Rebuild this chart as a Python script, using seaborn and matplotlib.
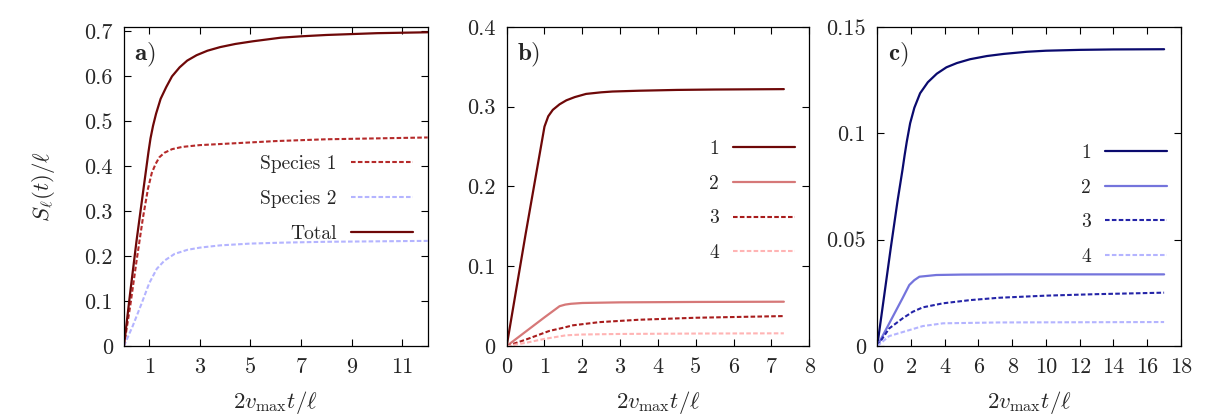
import numpy as np
import pandas as pd
import matplotlib
matplotlib.use('Agg')
import matplotlib.pyplot as plt
import seaborn as sns

# ---- panel a: two species + total ----
t_a_total = [0, 0.25, 0.5, 0.75, 0.97, 1.05, 1.15, 1.27, 1.45, 1.67, 1.9, 2.2, 2.5, 2.87, 3.3, 3.8, 4.4, 5.1, 6.2, 7.0, 8.0, 9.0, 10.0, 11.0, 12.0]
s_a_total = [0, 0.12, 0.235, 0.34, 0.432, 0.462, 0.49, 0.517, 0.55, 0.576, 0.60, 0.62, 0.635, 0.647, 0.657, 0.665, 0.672, 0.678, 0.686, 0.689, 0.692, 0.694, 0.696, 0.697, 0.698]
t_a_sp1 = [0, 0.25, 0.5, 0.75, 0.95, 1.1, 1.25, 1.4, 1.6, 1.9, 2.3, 3.0, 4.0, 5.0, 6.0, 7.0, 8.0, 9.0, 10.0, 11.0, 12.0]
s_a_sp1 = [0, 0.09, 0.19, 0.285, 0.35, 0.385, 0.405, 0.42, 0.43, 0.438, 0.443, 0.447, 0.45, 0.453, 0.456, 0.458, 0.46, 0.461, 0.462, 0.463, 0.464]
t_a_sp2 = [0, 0.35, 0.7, 1.0, 1.3, 1.6, 2.0, 2.5, 3.0, 3.8, 5.0, 6.2, 8.0, 10.0, 12.0]
s_a_sp2 = [0, 0.045, 0.095, 0.14, 0.172, 0.19, 0.205, 0.214, 0.219, 0.224, 0.228, 0.23, 0.232, 0.233, 0.234]
labels_a = ['Species 1', 'Species 2', 'Total']

# ---- panel b: curves 1..4 ----
t_b1 = [0, 0.5, 1.0, 1.1, 1.22, 1.4, 1.58, 1.8, 2.1, 2.5, 2.8, 3.5, 4.5, 5.5, 7.33]
s_b1 = [0, 0.14, 0.275, 0.288, 0.296, 0.303, 0.308, 0.312, 0.316, 0.318, 0.319, 0.320, 0.321, 0.3215, 0.322]
t_b2 = [0, 0.5, 1.0, 1.4, 1.55, 1.7, 2.0, 3.0, 5.0, 7.33]
s_b2 = [0, 0.018, 0.036, 0.050, 0.052, 0.053, 0.054, 0.0548, 0.0553, 0.0556]
t_b3 = [0, 0.5, 1.13, 1.5, 1.75, 2.1, 2.45, 3.5, 5.0, 7.33]
s_b3 = [0, 0.008, 0.019, 0.023, 0.026, 0.028, 0.030, 0.033, 0.0355, 0.0376]
t_b4 = [0, 0.5, 1.0, 1.57, 2.0, 3.0, 5.0, 7.33]
s_b4 = [0, 0.004, 0.009, 0.0135, 0.0145, 0.0152, 0.0157, 0.016]

# ---- panel c: curves 1..4 ----
t_c1 = [0, 0.4, 0.8, 1.2, 1.5, 1.62, 1.75, 1.95, 2.2, 2.54, 3.0, 3.53, 4.1, 4.72, 5.5, 6.5, 7.5, 8.86, 10, 12, 14, 17]
s_c1 = [0, 0.023, 0.046, 0.068, 0.083, 0.0895, 0.096, 0.1047, 0.112, 0.1188, 0.124, 0.128, 0.131, 0.133, 0.1348, 0.1363, 0.1373, 0.1383, 0.1388, 0.1392, 0.1394, 0.1395]
t_c2 = [0, 0.5, 1.0, 1.5, 1.9, 2.2, 2.5, 3.5, 5.0, 8.0, 12.0, 17.0]
s_c2 = [0, 0.0075, 0.015, 0.0225, 0.0287, 0.031, 0.0326, 0.0334, 0.0336, 0.0337, 0.0337, 0.0337]
t_c3 = [0, 0.71, 1.5, 2.1, 2.7, 3.9, 5.5, 7.2, 10.0, 13.0, 17.0]
s_c3 = [0, 0.0083, 0.013, 0.0161, 0.0182, 0.0201, 0.0216, 0.0227, 0.0237, 0.0244, 0.0251]
t_c4 = [0, 0.71, 1.9, 2.7, 3.9, 7.2, 12.0, 17.0]
s_c4 = [0, 0.0047, 0.0075, 0.0094, 0.0107, 0.0111, 0.0112, 0.0113]
labels_n = ['1', '2', '3', '4']

# ---- ticks ----
xt_a = [1, 3, 5, 7, 9, 11]
yt_a = [0, 0.1, 0.2, 0.3, 0.4, 0.5, 0.6, 0.7]
yl_a = ['0', '0.1', '0.2', '0.3', '0.4', '0.5', '0.6', '0.7']
xt_b = [0, 1, 2, 3, 4, 5, 6, 7, 8]
yt_b = [0, 0.1, 0.2, 0.3, 0.4]
yl_b = ['0', '0.1', '0.2', '0.3', '0.4']
xt_c = [0, 2, 4, 6, 8, 10, 12, 14, 16, 18]
yt_c = [0, 0.05, 0.1, 0.15]
yl_c = ['0', '0.05', '0.1', '0.15']

sns.set_theme(style='ticks')
plt.rcParams['font.family'] = ['cmr10', 'DejaVu Serif']
plt.rcParams['mathtext.fontset'] = 'cm'
plt.rcParams['axes.linewidth'] = 0.9

dash = (0, (2.2, 1.1))

fig = plt.figure(figsize=(12.15, 4.2), dpi=100)
ax_a = fig.add_axes([0.102, 0.176, 0.250, 0.760])
ax_b = fig.add_axes([0.417, 0.176, 0.249, 0.760])
ax_c = fig.add_axes([0.722, 0.176, 0.250, 0.760])


def line(ax, t, s, color, ls='-', lw=1.6):
    sns.lineplot(x=t, y=s, ax=ax, color=color, linestyle=ls, lw=lw)
    return ax.get_lines()[-1]


# panel a
h1 = line(ax_a, t_a_sp1, s_a_sp1, '#b52a2a', dash, 1.5)
h2 = line(ax_a, t_a_sp2, s_a_sp2, '#b4b4ff', dash, 1.5)
h3 = line(ax_a, t_a_total, s_a_total, '#6e0808', '-', 1.6)
hand_a = [h1, h2, h3]

# panel b
hand_b = [line(ax_b, t_b1, s_b1, '#6e0808', '-', 1.6),
          line(ax_b, t_b2, s_b2, '#d67878', '-', 1.6),
          line(ax_b, t_b3, s_b3, '#a81c1c', dash, 1.5),
          line(ax_b, t_b4, s_b4, '#ffb4b4', dash, 1.5)]

# panel c
hand_c = [line(ax_c, t_c1, s_c1, '#0a0a6e', '-', 1.6),
          line(ax_c, t_c2, s_c2, '#7474dc', '-', 1.6),
          line(ax_c, t_c3, s_c3, '#2424a8', dash, 1.5),
          line(ax_c, t_c4, s_c4, '#b4b4ff', dash, 1.5)]

setup = [
    (ax_a, (0, 12), (0, 0.71), xt_a, [str(v) for v in xt_a], yt_a, yl_a, 'a', hand_a, labels_a, (0.951, 0.598)),
    (ax_b, (0, 8), (0, 0.4), xt_b, [str(v) for v in xt_b], yt_b, yl_b, 'b', hand_b, labels_n, (0.954, 0.645)),
    (ax_c, (0, 18), (0, 0.15), xt_c, [str(v) for v in xt_c], yt_c, yl_c, 'c', hand_c, labels_n, (0.954, 0.633)),
]

for ax, xl, yl, xt, xtl, yt, ytl, tag, hands, labs, anchor in setup:
    ax.set_xlim(*xl)
    ax.set_ylim(*yl)
    ax.set_xticks(xt, xtl)
    ax.set_yticks(yt, ytl)
    ax.tick_params(direction='in', top=True, right=True, length=5, width=0.8,
                   labelsize=16, pad=8, color='black')
    for sp in ax.spines.values():
        sp.set_visible(True)
        sp.set_color('black')
    ax.set_xlabel(r'$2v_{\max}t/\ell$', fontsize=16.5, labelpad=9)
    ax.text(0.034, 0.913, r'$\mathbf{' + tag + r'})$', transform=ax.transAxes,
            fontsize=18, va='center', ha='left')
    ax.legend(hands, labs, loc='upper right', bbox_to_anchor=anchor, frameon=False,
              markerfirst=False, fontsize=14, handlelength=3.2, handletextpad=0.72,
              labelspacing=0.86, borderpad=0, borderaxespad=0)

ax_a.set_ylabel(r'$S_\ell(t)/\ell$', fontsize=16.5, labelpad=20)

fig.savefig('out.png', dpi=100)
